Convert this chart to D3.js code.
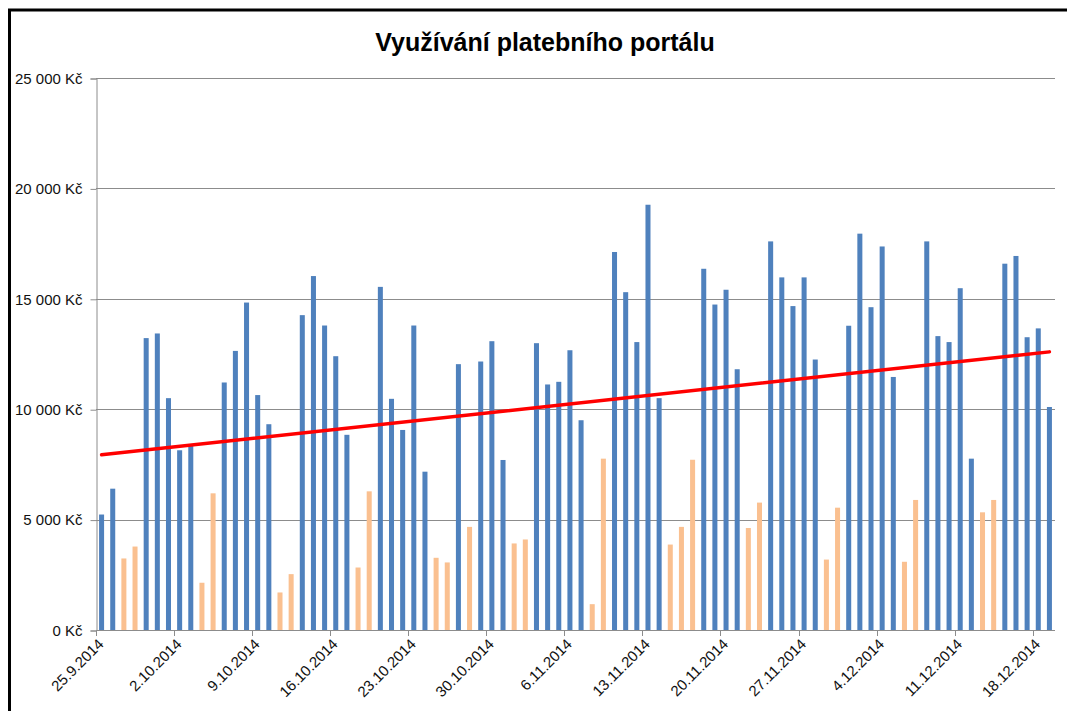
<!DOCTYPE html>
<html>
<head>
<meta charset="utf-8">
<script src="https://cdn.jsdelivr.net/npm/d3@7"></script>
<style>
body{margin:0;background:#fff;}
svg{display:block;font-family:"Liberation Sans",Arial,sans-serif;}
</style>
</head>
<body>
<svg></svg>
<script>
//data
var startDate = new Date(2014,8,25);
var endDate = new Date(2014,11,20);
var castky = [5230,6400,3240,3780,13220,13430,10500,8140,8350,2140,6190,
	11210,12640,14830,10640,9320,1700,2530,
	14260,16030,13790,12400,8840,2830,6280,
	15540,10470,9060,13790,7170,3270,3060,
	12040,4670,12160,13080,7700,3920,4100,
	12990,11120,11240,12670,9500,1170,7760,
	17120,15300,13040,19260,10500,3870,4670,
	7710,16360,14740,15410,11810,4620,5770,
	17600,15970,14670,15970,12250,3190,5540,
	13780,17950,14620,17370,11460,3090,5890,
	17600,13310,13040,15480,7760,5330,5890,
	16590,16940,13260,13660,10100];
//weekends and holidays (orange bars)
var volno = ['27.9','28.9','4.10','5.10','11.10','12.10','18.10','19.10','25.10','26.10',
	'28.10','1.11','2.11','8.11','9.11','15.11','16.11','17.11','22.11','23.11',
	'29.11','30.11','6.12','7.12','13.12','14.12'];
var yTicks = [0,5000,10000,15000,20000,25000];
var title = 'Využívání platebního portálu';

/*********chart************/
var width = 1067;
var height = 711;
var plot = {left:96,right:1055,top:78,bottom:630};
var svg = d3.select('svg')
	.attr('width',width)
	.attr('height',height);

var dny = d3.timeDay.range(startDate,endDate);
var fmtShort = d3.timeFormat('%-d.%-m');
var fmtLong = d3.timeFormat('%-d.%-m.%Y');
var data = dny.map(function(d,i){
	return {date:d,value:castky[i],off:volno.indexOf(fmtShort(d))>=0};
});

var xScale = d3.scaleBand()
	.domain(dny.map(function(d){return fmtLong(d);}))
	.range([plot.left,plot.right])
	.paddingInner(0.55)
	.paddingOuter(0.275);
var yScale = d3.scaleLinear()
	.domain([0,25000])
	.range([plot.bottom,plot.top]);

//frame
svg.append('rect')
	.attr('x',9.5).attr('y',10)
	.attr('width',1100).attr('height',800)
	.attr('fill','none').attr('stroke','#000').attr('stroke-width',3);

//title
svg.append('text')
	.attr('x',545).attr('y',51)
	.attr('text-anchor','middle')
	.attr('font-size',25).attr('font-weight','bold')
	.attr('fill','#000')
	.text(title);

//gridlines
svg.append('g').selectAll('line')
	.data(yTicks.slice(1))
	.enter().append('line')
	.attr('x1',plot.left).attr('x2',plot.right)
	.attr('y1',function(d){return Math.round(yScale(d))+0.5;})
	.attr('y2',function(d){return Math.round(yScale(d))+0.5;})
	.attr('stroke','#8c8c8c').attr('stroke-width',1);

//y axis
var axisY = d3.axisLeft(yScale)
	.tickValues(yTicks)
	.tickSize(6)
	.tickPadding(8)
	.tickFormat(function(d){return d3.format(',')(d).replace(',',' ')+' Kč';});
var axisYG = svg.append('g')
	.attr('transform','translate('+(plot.left+0.5)+',0.5)')
	.call(axisY);
axisYG.select('.domain').attr('stroke','#8c8c8c');
axisYG.selectAll('.tick line').attr('stroke','#8c8c8c');
axisYG.selectAll('text').attr('font-size',15).attr('fill','#111')
	.attr('font-family','"Liberation Sans",Arial,sans-serif');

//bars
var step = xScale.step();
svg.append('g').selectAll('rect')
	.data(data)
	.enter().append('rect')
	.attr('x',function(d){return xScale(fmtLong(d.date));})
	.attr('width',xScale.bandwidth())
	.attr('y',function(d){return yScale(d.value);})
	.attr('height',function(d){return plot.bottom-yScale(d.value);})
	.attr('fill',function(d){return d.off?'#fac090':'#4f81bd';});

//x axis
var axisXG = svg.append('g');
axisXG.append('line')
	.attr('x1',plot.left).attr('x2',plot.right)
	.attr('y1',plot.bottom+0.5).attr('y2',plot.bottom+0.5)
	.attr('stroke','#8c8c8c');
var tickDays = data.filter(function(d,i){return i%7===0;});
axisXG.selectAll('.tk')
	.data(tickDays)
	.enter().append('line')
	.attr('class','tk')
	.attr('x1',function(d){return Math.round(xScale(fmtLong(d.date))-(step-xScale.bandwidth())/2)+0.5;})
	.attr('x2',function(d){return Math.round(xScale(fmtLong(d.date))-(step-xScale.bandwidth())/2)+0.5;})
	.attr('y1',plot.bottom).attr('y2',plot.bottom+6)
	.attr('stroke','#8c8c8c');
axisXG.selectAll('.lb')
	.data(tickDays)
	.enter().append('text')
	.attr('class','lb')
	.attr('transform',function(d){
		var cx = xScale(fmtLong(d.date))+xScale.bandwidth()/2+3;
		return 'translate('+cx+','+(plot.bottom+15)+') rotate(-45)';
	})
	.attr('text-anchor','end')
	.attr('font-size',15)
	.attr('fill','#111')
	.text(function(d){return fmtLong(d.date);});

//trend line (least squares over all days)
var n = data.length;
var mx = d3.mean(data,function(d,i){return i;});
var my = d3.mean(data,function(d){return d.value;});
var sxy = d3.sum(data,function(d,i){return (i-mx)*(d.value-my);});
var sxx = d3.sum(data,function(d,i){return (i-mx)*(i-mx);});
var slope = sxy/sxx;
var icpt = my-slope*mx;
var trend = [0,n-1].map(function(i){return {i:i,v:icpt+slope*i};});
var line = d3.line()
	.x(function(d){return xScale(fmtLong(dny[d.i]))+xScale.bandwidth()/2;})
	.y(function(d){return yScale(d.v);});
svg.append('path')
	.datum(trend)
	.attr('d',line)
	.attr('fill','none')
	.attr('stroke','#ff0000')
	.attr('stroke-width',3.5)
	.attr('stroke-linecap','round');
</script>
</body>
</html>
